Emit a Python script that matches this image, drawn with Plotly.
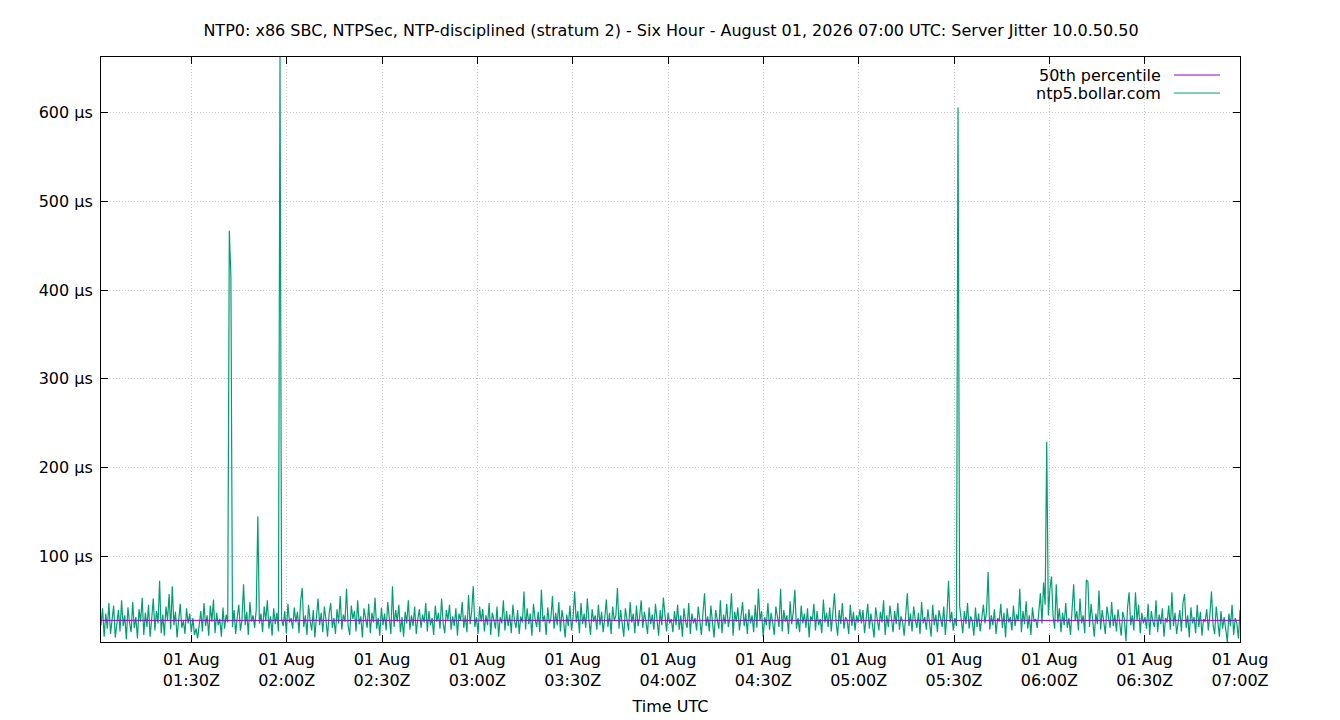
import pandas as pd
import plotly.graph_objects as go

# Titre et libellés
title = "NTP0: x86 SBC, NTPSec, NTP-disciplined (stratum 2) - Six Hour - August 01, 2026 07:00 UTC: Server Jitter 10.0.50.50"
series_names = ["50th percentile", "ntp5.bollar.com"]
x_title = "Time UTC"

# premier et dernier échantillon
start = "2026-08-01 01:01:34"
end = "2026-08-01 07:00:00"

# Jitter relevé toutes les ~30 s (µs), une liste par heure
h1 = [22, 41, 9, 35, 18, 47, 12, 30, 44, 8, 27, 39, 15, 50, 21, 33, 6, 42, 25, 14,
      48, 19, 31, 7, 40, 26, 53, 11, 36, 20, 45, 9, 29, 52, 16, 38, 24, 72, 13, 34,
      10, 43, 28, 57, 17, 66, 22, 37, 8, 31, 46, 19, 27, 12, 41, 24, 35, 14, 30, 11,
      18, 7, 23, 38, 15, 47, 21, 33, 10, 44, 26, 51, 13, 36, 22, 29, 9, 42, 18, 34,
      25, 467, 415, 20, 39, 12, 31, 45, 16, 28, 68, 22, 37, 11, 48, 26, 33, 19, 40, 145,
      24, 35, 14, 43, 27, 50, 18, 32, 10, 41, 23, 36, 15, 663, 29, 21, 38, 13, 46, 25]
h2 = [30, 18, 42, 25, 37, 13, 49, 64, 20, 33, 11, 45, 27, 16, 39, 8, 31, 52, 22, 36,
      14, 43, 28, 9, 35, 47, 19, 30, 12, 40, 24, 55, 17, 34, 26, 63, 21, 11, 44, 29,
      38, 15, 50, 23, 32, 8, 41, 27, 19, 46, 13, 36, 25, 53, 18, 30, 10, 42, 22, 35,
      16, 48, 28, 12, 66, 20, 39, 26, 45, 14, 31, 9, 37, 24, 50, 17, 33, 21, 43, 12,
      29, 40, 19, 34, 25, 47, 15, 38, 22, 30, 11, 44, 26, 36, 18, 52, 24, 13, 39, 28,
      45, 17, 32, 21, 41, 10, 35, 27, 48, 19, 33, 14, 56, 23, 38, 66, 20, 31, 12, 43]
h3 = [26, 40, 15, 33, 22, 47, 11, 36, 28, 18, 43, 9, 31, 24, 50, 16, 38, 21, 34, 13,
      45, 27, 19, 39, 12, 32, 25, 60, 17, 41, 23, 35, 10, 46, 29, 20, 37, 14, 62, 26,
      33, 11, 42, 24, 30, 55, 18, 36, 22, 48, 15, 39, 27, 8, 34, 21, 44, 16, 31, 60,
      25, 38, 13, 47, 23, 35, 19, 52, 28, 11, 40, 26, 33, 17, 45, 22, 37, 14, 30, 51,
      20, 36, 12, 43, 27, 33, 64, 18, 39, 24, 9, 41, 29, 16, 48, 25, 35, 13, 44, 21,
      31, 50, 19, 37, 26, 12, 42, 23, 34, 17, 46, 28, 10, 39, 22, 53, 30, 15, 36, 24]
h4 = [29, 14, 38, 22, 45, 17, 33, 9, 41, 26, 19, 47, 12, 35, 24, 30, 16, 43, 27, 11,
      36, 58, 21, 32, 15, 44, 25, 8, 39, 28, 18, 50, 13, 34, 23, 46, 20, 31, 58, 10,
      37, 26, 42, 16, 29, 48, 21, 35, 12, 40, 24, 33, 14, 45, 19, 63, 27, 38, 9, 31,
      22, 47, 17, 36, 25, 11, 43, 28, 20, 63, 15, 39, 26, 33, 12, 49, 23, 37, 62, 18,
      30, 14, 44, 24, 35, 19, 41, 8, 32, 27, 46, 16, 38, 22, 29, 13, 51, 25, 36, 20,
      42, 15, 34, 58, 26, 10, 39, 23, 47, 18, 31, 28, 12, 45, 21, 37, 16, 33, 25, 40]
h5 = [24, 39, 13, 31, 46, 18, 35, 22, 8, 42, 27, 16, 37, 25, 50, 11, 33, 20, 44, 29,
      14, 38, 23, 47, 17, 32, 26, 10, 41, 58, 21, 35, 15, 43, 28, 19, 36, 12, 48, 24,
      31, 17, 40, 26, 9, 45, 22, 34, 14, 39, 27, 20, 43, 11, 33, 72, 25, 37, 16, 30,
      21, 606, 44, 28, 13, 38, 23, 47, 18, 32, 26, 10, 42, 20, 35, 15, 29, 45, 24, 37,
      82, 17, 33, 22, 40, 12, 30, 26, 46, 19, 36, 8, 41, 25, 31, 16, 44, 21, 34, 27,
      63, 14, 38, 23, 49, 18, 33, 11, 42, 26, 29, 19, 37, 58, 24, 70, 45, 229, 33, 62]
h6 = [77, 32, 18, 68, 25, 41, 14, 36, 22, 47, 19, 30, 11, 44, 68, 27, 38, 16, 52, 24,
      33, 13, 73, 71, 20, 46, 28, 9, 35, 23, 61, 17, 39, 26, 12, 43, 30, 19, 48, 21,
      34, 15, 40, 25, 10, 37, 29, 4, 42, 59, 22, 33, 16, 59, 27, 45, 13, 36, 24, 31,
      18, 46, 11, 38, 26, 20, 50, 14, 34, 23, 41, 9, 30, 25, 44, 17, 59, 21, 36, 12,
      28, 39, 15, 47, 57, 19, 33, 8, 42, 24, 31, 13, 45, 20, 37, 10, 29, 26, 40, 16,
      34, 60, 22, 12, 43, 27, 9, 38, 18, 31, 14, 3, 35, 21, 45, 11, 30, 24, 7, 39]

p50 = 27.4  # ligne du 50e percentile

tick_times = ["01:30", "02:00", "02:30", "03:00", "03:30", "04:00",
              "04:30", "05:00", "05:30", "06:00", "06:30", "07:00"]
y_ticks = [100, 200, 300, 400, 500, 600]

jitter = h1 + h2 + h3 + h4 + h5 + h6
times = pd.date_range(start, end, periods=len(jitter))

font = "DejaVu Sans"
purple = "#9400D3"
green = "#009E73"

trace_jit = go.Scatter(
    x=times, y=jitter, mode="lines", name=series_names[1],
    line=dict(color=green, width=1.2), showlegend=False,
)
# le percentile par-dessus, comme dans l'original
trace_p50 = go.Scatter(
    x=[start, end], y=[p50, p50], mode="lines", name=series_names[0],
    line=dict(color=purple, width=1), showlegend=False,
)

fig = go.Figure(data=[trace_jit, trace_p50])

# légende façon gnuplot : texte à droite, trait après
annotations = []
shapes = []
for i, (name, col) in enumerate(zip(series_names, [purple, green])):
    yy = 0.9692 - i * 0.0308
    annotations.append(dict(
        xref="paper", yref="paper", x=0.9324, y=yy, text=name,
        showarrow=False, xanchor="right", yanchor="middle",
        font=dict(family=font, size=16, color="black"),
    ))
    shapes.append(dict(
        type="line", xref="paper", yref="paper",
        x0=0.9420, x1=0.9824, y0=yy, y1=yy,
        line=dict(color=col, width=1),
    ))

# la page décale tout d'environ 7 px, on compense dans les marges
off = 7
fig.update_layout(
    width=1340, height=720,
    margin=dict(l=100 - off, r=101 + off, t=56 - off, b=79 + off),
    paper_bgcolor="white", plot_bgcolor="white",
    font=dict(family=font, size=16, color="black"),
    title=dict(text=title, x=(670 - off) / 1340, xref="container",
               y=1 - (29 - off) / 720, yref="container",
               xanchor="center", yanchor="middle", font=dict(size=16)),
    annotations=annotations,
    shapes=shapes,
    showlegend=False,
)

fig.update_xaxes(
    range=[times[0], times[-1]],
    tickvals=["2026-08-01 " + t for t in tick_times],
    ticktext=["01 Aug<br>" + t + "Z" for t in tick_times],
    ticks="inside", ticklen=7, tickcolor="black", tickwidth=1,
    ticklabelstandoff=3,
    showline=True, linecolor="black", linewidth=1, mirror="ticks",
    showgrid=True, gridcolor="#c8c8c8", griddash="1px,2px", gridwidth=1,
    zeroline=False,
    title=dict(text=x_title, standoff=11, font=dict(size=16)),
)
fig.update_yaxes(
    range=[min(jitter), max(jitter)],
    tickvals=y_ticks,
    ticktext=[f"{v} µs" for v in y_ticks],
    ticks="inside", ticklen=7, tickcolor="black", tickwidth=1,
    ticklabelstandoff=4,
    showline=True, linecolor="black", linewidth=1, mirror="ticks",
    showgrid=True, gridcolor="#c8c8c8", griddash="1px,2px", gridwidth=1,
    zeroline=False,
)

fig.write_html("out.html")
